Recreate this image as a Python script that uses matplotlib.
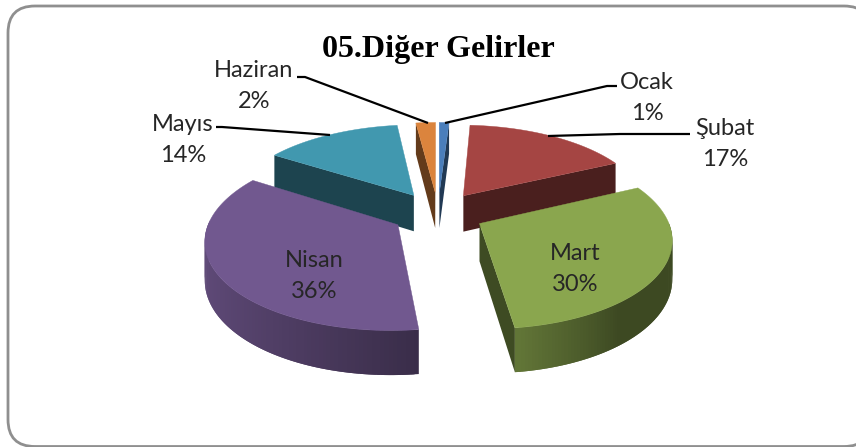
import numpy as np
import matplotlib
matplotlib.use('Agg')
import matplotlib.pyplot as plt
from matplotlib.patches import Polygon, FancyBboxPatch

aylar = ['Ocak', 'Şubat', 'Mart', 'Nisan', 'Mayıs', 'Haziran']
oranlar = [1, 17, 30, 36, 14, 2]
renkler = ['#4a7ebb', '#a54543', '#8aa64e', '#71588f', '#4198af', '#db843d']
baslik = '05.Diğer Gelirler'

# pie geometry in image pixels
cx, cy = 438, 213
A, B = 186, 86
D = 37
p = 0.15
patlama = 0.25

# label position, leader line (None = no line)
etiketler = {
    'Ocak': ((647, 98), [(445, 123), (607, 86), (617, 86)]),
    'Şubat': ((725, 144), [(548, 136), (620, 134), (690, 134)]),
    'Mart': ((575, 269), None),
    'Nisan': ((314, 276), None),
    'Mayıs': ((183, 140), [(330, 135), (222, 127), (216, 127)]),
    'Haziran': ((254, 86), [(428, 123), (305, 77), (297, 77)]),
}


def izdus(u, v, z=0):
    # simple perspective, back of the pie is smaller
    s = 1 + p * v
    return cx + A * u / s, cy - B * v / s + D * z / s


def koyu(renk, f):
    return tuple(c * f for c in matplotlib.colors.to_rgb(renk))


def alan(q):
    x = np.array([a[0] for a in q])
    y = np.array([a[1] for a in q])
    return np.sum(x * np.roll(y, -1) - np.roll(x, -1) * y)


fig = plt.figure(figsize=(8.56, 4.47), dpi=100)
ax = fig.add_axes([0, 0, 1, 1])
ax.set_xlim(0, 856)
ax.set_ylim(447, 0)
ax.axis('off')

# frame runs off the right side of the picture
ax.add_patch(FancyBboxPatch((8, 6), 863, 440.5, boxstyle='round,pad=0,rounding_size=27',
                            fc='white', ec='#8f8f8f', lw=2))

toplam = sum(oranlar)
sinirlar = np.radians(np.cumsum([0] + oranlar) / toplam * 360)
dilimler = []
for i in range(len(aylar)):
    t0, t1 = sinirlar[i], sinirlar[i + 1]
    orta = (t0 + t1) / 2
    dilimler.append((np.cos(orta), i, t0, t1, orta))

# back slices first
for _, i, t0, t1, orta in sorted(dilimler, reverse=True):
    renk = renkler[i]
    eu, ev = patlama * np.sin(orta), patlama * np.cos(orta)
    t = np.linspace(t0, t1, 120)
    u = eu + np.sin(t)
    v = ev + np.cos(t)

    merkez_ust = izdus(eu, ev)
    merkez_alt = izdus(eu, ev, 1)

    # radial walls, only the ones that face the viewer
    for aci, isaret in ((t0, -1), (t1, 1)):
        ku, kv = eu + np.sin(aci), ev + np.cos(aci)
        q = [merkez_ust, izdus(ku, kv), izdus(ku, kv, 1), merkez_alt]
        if alan(q) * isaret > 0:
            ax.add_patch(Polygon(q, fc=koyu(renk, 0.45), ec='none'))

    # outer wall, split up for the shading
    for j in range(len(t) - 2):
        if np.cos(t[j]) < 0.02:
            q = [izdus(u[j], v[j]), izdus(u[j + 2], v[j + 2]),
                 izdus(u[j + 2], v[j + 2], 1), izdus(u[j], v[j], 1)]
            if orta < np.pi:
                f = np.interp(t[j], [t1 - 0.55, t1], [0.44, 0.72])
            else:
                f = 0.55 - 0.3 * np.sin(t[j])
            ax.add_patch(Polygon(q, fc=koyu(renk, f), ec='none'))

    # top face
    ust = [merkez_ust] + [izdus(a, b) for a, b in zip(u, v)]
    ax.add_patch(Polygon(ust, fc=renk, ec=renk, lw=0.3))

for ay, oran in zip(aylar, oranlar):
    konum, cizgi = etiketler[ay]
    ax.text(konum[0], konum[1], '%s\n%d%%' % (ay, oran), ha='center', va='center',
            fontsize=17, family='Lato', color='#262626', linespacing=1.6)
    if cizgi:
        ax.plot([c[0] for c in cizgi], [c[1] for c in cizgi], color='black', lw=1.6,
                solid_capstyle='butt')

ax.text(438, 50, baslik, ha='center', va='center', fontsize=23, fontweight='bold',
        family='Liberation Serif', color='black')

fig.savefig('out.png', dpi=100)
